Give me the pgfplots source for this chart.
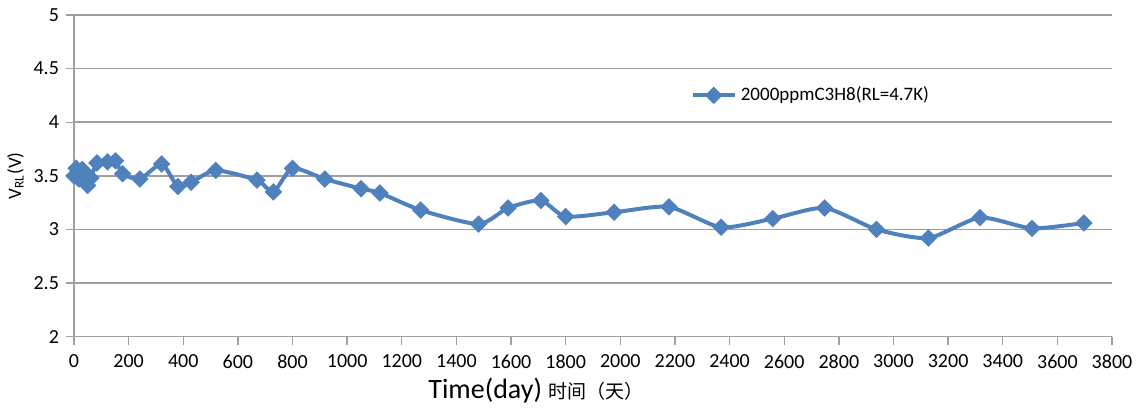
\documentclass[border=0pt]{standalone}
\usepackage{pgfplots}
\pgfplotsset{compat=1.18}
\usepackage{fontspec}
\setmainfont{Carlito}
\newfontfamily\cjk{Noto Sans CJK SC}
\definecolor{serieblue}{HTML}{4F81BD}
\definecolor{gridgray}{HTML}{A0A0A0}

\begin{document}
\begin{tikzpicture}
% keep the margins of the original image
\path[use as bounding box] (-37pt,-36.2pt) rectangle (534.5pt,168.3pt);
\begin{axis}[
    scale only axis,
    width=519pt, height=160.8pt,
    xmin=0, xmax=3800, ymin=2, ymax=5,
    xtick={0,200,...,3800},
    ytick={2,2.5,...,5},
    axis lines*=left,
    axis line style={gridgray, line width=0.8pt},
    tick align=outside,
    major tick length=4pt,
    tick style={gridgray, line width=0.7pt},
    ymajorgrids,
    grid style={gridgray, line width=0.8pt},
    /pgf/number format/assume math mode=true,
    /pgf/number format/1000 sep={},
    ticklabel style={font=\fontsize{10}{12}\selectfont},
    xticklabel style={yshift=-1.5pt},
    xlabel={\fontsize{14}{16}\selectfont Time(day) {\cjk\fontsize{9.5}{11}\selectfont 时间（天）}},
    xlabel style={at={(axis description cs:0.445,0)}, anchor=north, yshift=-17pt},
    ylabel={\fontsize{9.5}{11}\selectfont V\textsubscript{RL}(V)},
    ylabel style={yshift=-2pt},
    legend style={at={(0.588,0.75)}, anchor=west, draw=none, fill=none,
        font=\fontsize{9.5}{11}\selectfont},
    legend cell align=left,
    legend image code/.code={\draw[mark repeat=2,mark phase=2]
        plot coordinates {(0cm,0cm) (0.37cm,0cm) (0.74cm,0cm)};},
]
\addplot[serieblue, line width=2pt, smooth, tension=0.4,
    mark=square*, mark size=2.1pt, mark options={rotate=45, solid, fill=serieblue}]
coordinates {
    (0,3.50) (8,3.57) (18,3.47) (30,3.56) (50,3.41) (62,3.48)
    (84,3.62) (123,3.63) (152,3.64) (178,3.52) (241,3.47) (321,3.61)
    (380,3.40) (429,3.44) (519,3.55) (670,3.46) (730,3.35) (800,3.57)
    (918,3.47) (1051,3.38) (1120,3.34) (1269,3.18) (1481,3.05) (1589,3.20)
    (1709,3.27) (1800,3.12) (1977,3.16) (2178,3.21) (2369,3.02) (2558,3.10)
    (2748,3.20) (2938,3.00) (3128,2.92) (3317,3.11) (3507,3.01) (3697,3.06)
};
\addlegendentry{2000ppmC3H8(RL=4.7K)}
\end{axis}
\end{tikzpicture}
\end{document}
